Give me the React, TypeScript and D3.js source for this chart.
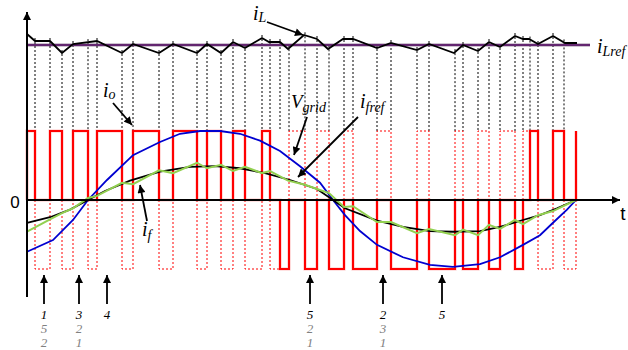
import * as d3 from 'd3'

// time axis (arbitrary units, 0 = start of the window)
const T_MAX = 550

// V_grid (blue)
const gridT = [0, 26, 46, 61, 80, 106, 133, 153, 173, 193, 213, 233, 253, 273, 293, 306, 318, 333, 350, 376, 403, 426, 453, 473, 496, 513, 526, 540, 549]
const gridV = [-0.75, -0.58, -0.29, 0, 0.29, 0.65, 0.84, 0.96, 1.0, 1.0, 0.96, 0.86, 0.71, 0.49, 0.25, 0, -0.22, -0.45, -0.65, -0.83, -0.94, -0.97, -0.93, -0.83, -0.65, -0.51, -0.33, -0.14, 0]

// i_fref (black)
const frefT = [0, 23, 43, 61, 78, 103, 133, 163, 188, 213, 238, 263, 290, 306, 318, 350, 376, 403, 426, 453, 473, 496, 513, 530, 549]
const frefV = [-0.33, -0.25, -0.14, 0, 0.13, 0.28, 0.41, 0.48, 0.49, 0.46, 0.39, 0.29, 0.16, 0, -0.12, -0.3, -0.39, -0.45, -0.46, -0.45, -0.39, -0.29, -0.22, -0.12, 0]

// i_f (green)
const ifT = [0, 23, 35, 46, 61, 70, 95, 106, 132, 146, 170, 180, 194, 206, 218, 235, 243, 261, 278, 290, 302, 317, 326, 350, 364, 390, 402, 428, 436, 451, 462, 473, 488, 496, 511, 526, 549]
const ifV = [-0.46, -0.28, -0.19, -0.12, 0.03, 0.06, 0.25, 0.23, 0.43, 0.39, 0.54, 0.46, 0.51, 0.42, 0.48, 0.39, 0.42, 0.28, 0.22, 0.16, 0.1, -0.1, -0.09, -0.32, -0.32, -0.48, -0.42, -0.51, -0.43, -0.51, -0.36, -0.42, -0.29, -0.35, -0.22, -0.16, 0]

// i_L (top trace), deviation from i_Lref
const iLT = [0, 8, 23, 35, 46, 70, 95, 106, 132, 146, 170, 180, 194, 206, 218, 235, 242, 253, 261, 277, 290, 301, 316, 326, 350, 364, 390, 402, 427, 436, 451, 462, 473, 488, 496, 502, 511, 526, 538, 550]
const iLV = [1.375, 0.5, 0.5, -1, 0.125, 0.5, -1, 0.125, -1, 0.125, -1, 0.125, -1, 0.375, -0.375, 0.875, 0.375, 0.375, -0.5, 1.25, 0.75, -0.5, 0.75, 0.75, -0.375, 0.25, -0.625, 0.125, -1, 0, -0.75, 0.375, -0.25, 1.125, 0.75, 0.75, 0.125, 1.125, 0.25, 0.25]
const iLref = 0

// i_o switching instants, level of each interval, and the dotted complement
const edges = [0, 8, 23, 35, 46, 61, 70, 95, 106, 132, 146, 170, 180, 194, 206, 218, 235, 243, 253, 262, 278, 290, 302, 317, 326, 350, 364, 390, 402, 428, 436, 451, 462, 473, 488, 496, 503, 511, 526, 537, 549]
const states = [1, 0, 1, 0, 1, 0, 1, 0, 1, 0, 1, 0, 1, 0, 1, 0, 1, 0, -1, 0, -1, 0, -1, 0, -1, 0, -1, 0, -1, 0, -1, 0, -1, 0, -1, 0, 1, 0, 1, 0]
const dotted = [0, -1, 0, -1, 0, -1, 0, -1, 0, -1, 0, -1, 0, -1, 0, -1, 0, -1, 0, 1, 0, 1, 0, 1, 0, 1, 0, 1, 0, 1, 0, 1, 0, 1, 0, 1, 0, -1, 0, -1]

// switching-state markers under the axis
const markerT = [17, 52, 80, 283, 356, 415]
const markerLabels = [['1', '5', '2'], ['3', '2', '1'], ['4'], ['5', '2', '1'], ['2', '3', '1'], ['5']]

const serif = "'Liberation Serif', 'Times New Roman', 'DejaVu Serif', serif"
const sans = "'Liberation Sans', Arial, sans-serif"

function App() {
  const width = 628
  const height = 350

  const x = d3.scaleLinear().domain([0, T_MAX]).range([27, 577])
  const y = d3.scaleLinear().domain([-1, 1]).range([269, 131])
  const yL = d3.scaleLinear().domain([-1, 1]).range([53, 37])
  const iLAt = d3.scaleLinear().domain(iLT).range(iLV)

  const line = d3.line<[number, number]>().x(d => x(d[0])).y(d => y(d[1]))
  const lineL = d3.line<[number, number]>().x(d => x(d[0])).y(d => yL(d[1]))

  const zip = (ts: number[], vs: number[]) => ts.map((t, i) => [t, vs[i]] as [number, number])

  // solid red step wave
  const pts: [number, number][] = [[edges[0], 0]]
  states.forEach((s, i) => {
    pts.push([edges[i], s])
    pts.push([edges[i + 1], s])
  })
  pts.push([edges[edges.length - 1], 0])
  pts.push([edges[edges.length - 1], 1])

  // dotted complement rectangles
  const dottedPaths = dotted
    .map((d, i) => (d === 0 ? null : `M${x(edges[i])},${y(0)}V${y(d)}H${x(edges[i + 1])}V${y(0)}`))
    .filter(Boolean) as string[]

  const dropEdges = edges.slice(1, -1)

  const lab = { fontFamily: serif, fontStyle: 'italic' as const }

  return (
    <svg width={width} height={height} style={{ display: 'block', position: 'absolute', left: 0, top: 0, background: '#fff' }}>
      <defs>
        <marker id="ah" viewBox="0 0 10 10" refX="10" refY="5" markerWidth="9" markerHeight="8" markerUnits="userSpaceOnUse" orient="auto">
          <path d="M0,0L10,5L0,10z" fill="#000" />
        </marker>
      </defs>

      {/* dotted black drop lines from i_L to the pulse level */}
      {dropEdges.map((t, i) => (
        <line key={'dl' + i} x1={x(t)} x2={x(t)} y1={yL(iLAt(t)) - 3} y2={y(1)}
          stroke="#000" strokeWidth={1} strokeDasharray="2,2" />
      ))}

      {/* dotted red complement */}
      {dottedPaths.map((d, i) => (
        <path key={'dp' + i} d={d} fill="none" stroke="#ff0000" strokeWidth={1} strokeDasharray="2,2" />
      ))}

      {/* solid red i_o */}
      <path d={line(pts) || ''} fill="none" stroke="#ff5050" strokeWidth={3.2} strokeOpacity={0.35} />
      <path d={line(pts) || ''} fill="none" stroke="#ff0000" strokeWidth={2} />

      {/* i_Lref and i_L */}
      <line x1={x(0)} x2={590} y1={yL(iLref)} y2={yL(iLref)} stroke="#3d1046" strokeWidth={2.4} />
      <line x1={x(0)} x2={590} y1={yL(iLref)} y2={yL(iLref)} stroke="#8a3c9a" strokeWidth={1.2} />
      <path d={lineL(zip(iLT, iLV)) || ''} fill="none" stroke="#000" strokeWidth={1.8} />

      {/* curves */}
      <path d={line(zip(gridT, gridV)) || ''} fill="none" stroke="#0000d0" strokeWidth={1.8} />
      <path d={line(zip(frefT, frefV)) || ''} fill="none" stroke="#000" strokeWidth={1.8} />
      <path d={line(zip(ifT, ifV)) || ''} fill="none" stroke="#92d050" strokeWidth={2} />

      {/* axes */}
      <line x1={27} x2={27} y1={297} y2={12} stroke="#000" strokeWidth={2} markerEnd="url(#ah)" />
      <line x1={27} x2={620} y1={y(0)} y2={y(0)} stroke="#000" strokeWidth={2} markerEnd="url(#ah)" />
      <text x={15} y={208} textAnchor="middle" style={{ fontFamily: sans }} fontSize={17}>0</text>
      <text x={623} y={220} textAnchor="middle" style={{ fontFamily: sans }} fontSize={19}>t</text>

      {/* labels */}
      <g fill="#000" style={lab}>
        <text x={253} y={20} fontSize={20}>i<tspan fontSize={14} dy={2}>L</tspan></text>
        <text x={597} y={53} fontSize={20}>i<tspan fontSize={14} dy={3}>Lref</tspan></text>
        <text x={103} y={97} fontSize={20}>i<tspan fontSize={14} dy={2}>o</tspan></text>
        <text x={291} y={108} fontSize={19}>V<tspan fontSize={14} dy={4}>grid</tspan></text>
        <text x={360} y={108} fontSize={20}>i<tspan fontSize={14} dy={4}>fref</tspan></text>
        <text x={142} y={236} fontSize={20}>i<tspan fontSize={14} dy={4}>f</tspan></text>
      </g>

      {/* label arrows */}
      <g stroke="#000" strokeWidth={1.8}>
        <line x1={267} y1={22} x2={303} y2={35} markerEnd="url(#ah)" />
        <line x1={113} y1={103} x2={132} y2={125} markerEnd="url(#ah)" />
        <line x1={307} y1={117} x2={294} y2={155} markerEnd="url(#ah)" />
        <line x1={358} y1={117} x2={298} y2={177} markerEnd="url(#ah)" />
        <line x1={147} y1={221} x2={140} y2={185} markerEnd="url(#ah)" />
      </g>

      {/* switching-state markers */}
      {markerT.map((t, i) => (
        <g key={'m' + i}>
          <line x1={x(t)} x2={x(t)} y1={304} y2={275} stroke="#000" strokeWidth={1.8} markerEnd="url(#ah)" />
          {markerLabels[i].map((s, j) => (
            <text key={j} x={x(t)} y={319 + j * 14} textAnchor="middle" style={lab}
              fontSize={13} fill={j === 0 ? '#000' : '#808080'}>{s}</text>
          ))}
        </g>
      ))}
    </svg>
  )
}

export default App
